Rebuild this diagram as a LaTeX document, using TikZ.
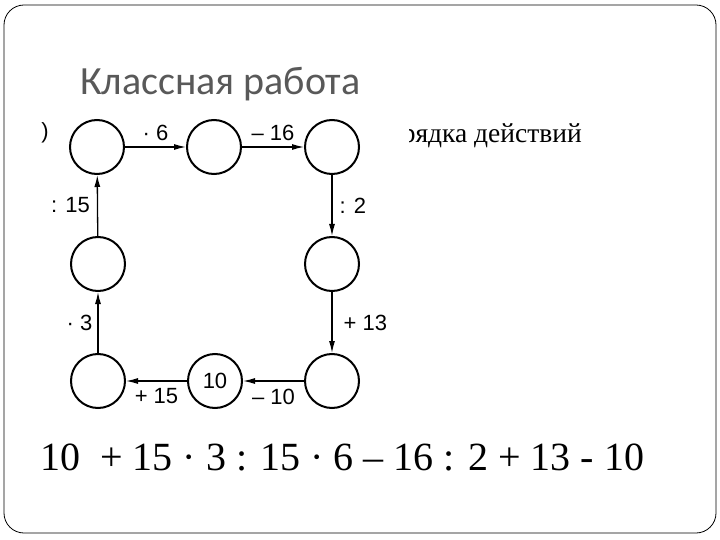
\documentclass[tikz,border=0pt]{standalone}
\usepackage{fontspec}
\setmainfont{Liberation Serif}
\newfontfamily\scanfont{Liberation Sans}
\newfontfamily\titlefont{Carlito}
\usetikzlibrary{arrows.meta,positioning}
\definecolor{titlegray}{RGB}{89,89,89}

\begin{document}
\begin{tikzpicture}[x=1pt,y=-1pt,
  cell/.style={draw,circle,line width=2pt,minimum size=54pt,inner sep=0pt,
    font=\scanfont\fontsize{22}{22}\selectfont},
  link/.style={line width=1.3pt,-{Latex[length=12pt,width=6pt]}},
  op/.style={font=\scanfont\fontsize{22}{22}\selectfont,inner sep=1pt},
]
\useasboundingbox (0,0) rectangle (720,540);
\draw[line width=0.8pt,rounded corners=20pt] (4,5) rectangle (716,533);

\node[anchor=base west,inner sep=0pt,text=titlegray,
  font=\titlefont\fontsize{40}{40}\selectfont]
  (title) at (80,95) {Классная работа};
\node[anchor=base east,inner sep=0pt,font=\fontsize{27.5}{27.5}\selectfont]
  (task) at (582,143) {порядка действий};
% scanned picture lies over the text
\fill[white] (38,112) rectangle (409,420);
\node[op] (cut) at (45,133) {)};

% the chain of circles
\node[cell] (c1) at (97,147) {};
\node[cell] (c2) at (214,147) {};
\node[cell] (c3) at (332,147) {};
\node[cell] (c4) at (332,264) {};
\node[cell] (c5) at (332,381) {};
\node[cell] (c6) at (215,381) {10};
\node[cell] (c7) at (98,381) {};
\node[cell] (c8) at (98,264) {};

\draw[link] (c7) -- node[op,left=4pt] {· 3} (c8);
\draw[link] (c8) -- node[op,left=6pt] {: 15} (c1);
\draw[link] (c1) -- node[op,above=5pt] {· 6} (c2);
\draw[link] (c2) -- node[op,above=5pt] {– 16} (c3);
\draw[link] (c3) -- node[op,right=6pt] {: 2} (c4);
\draw[link] (c4) -- node[op,right=10pt] {+ 13} (c5);
\draw[link] (c5) -- node[op,below=6pt] {– 10} (c6);
\draw[link] (c6) -- node[op,below=6pt] {+ 15} (c7);

\node[anchor=base west,inner sep=0pt,font=\fontsize{40}{40}\selectfont]
  (sum) at (40,470) {10~ + 15 · 3 : 15 · 6 – 16 : 2 + 13 - 10};
\end{tikzpicture}
\end{document}
